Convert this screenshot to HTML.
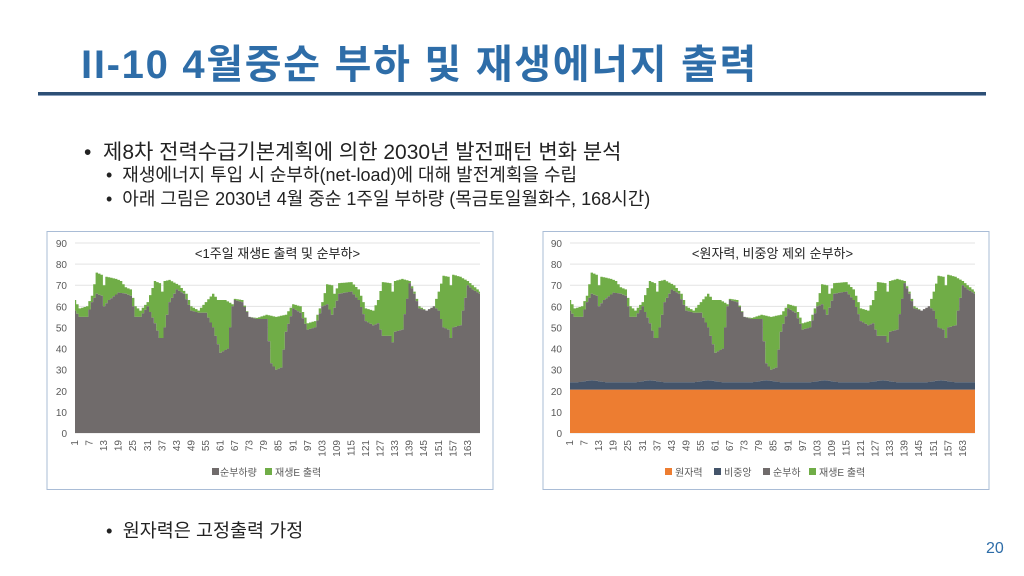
<!DOCTYPE html>
<html><head><meta charset="utf-8"><style>
body{margin:0;width:1024px;height:576px;background:#fff;position:relative;overflow:hidden;font-family:"Liberation Sans","Noto Sans CJK KR",sans-serif;}
.t{position:absolute;white-space:nowrap}
</style></head><body>
<div class="t" style="left:81px;top:32px;font-size:40px;font-weight:bold;color:#2e6da8;letter-spacing:1.7px">II-10 4월중순 부하 및 재생에너지 출력</div>
<div style="position:absolute;left:38px;top:92px;width:948px;height:3px;background:#2d4f75"></div>
<div style="position:absolute;left:38px;top:95px;width:948px;height:1px;background:#8aa0bd"></div>
<div class="t" style="left:84px;top:136px;font-size:21px;color:#222">•&nbsp; 제8차 전력수급기본계획에 의한 2030년 발전패턴 변화 분석</div>
<div class="t" style="left:106px;top:161px;font-size:18px;color:#222">•&nbsp; 재생에너지 투입 시 순부하(net-load)에 대해 발전계획을 수립</div>
<div class="t" style="left:106px;top:185px;font-size:18px;color:#222">•&nbsp; 아래 그림은 2030년 4월 중순 1주일 부하량 (목금토일월화수, 168시간)</div>
<div class="t" style="left:106px;top:517px;font-size:18.5px;color:#222">•&nbsp; 원자력은 고정출력 가정</div>
<div class="t" style="left:986px;top:540px;font-size:16px;color:#2e6da8">20</div>
<svg id="s" width="1024" height="576" style="position:absolute;left:0;top:0" xmlns="http://www.w3.org/2000/svg"></svg>
<script>
function interp(k){var a=[];for(var h=1;h<=168;h++){for(var i=0;i<k.length-1;i++){if(h>=k[i][0]&&h<=k[i+1][0]){var t=(h-k[i][0])/(k[i+1][0]-k[i][0]);a.push(k[i][1]+t*(k[i+1][1]-k[i][1]));break;}}}return a;}
var tot=interp([[1,63],[3,59],[6,60],[8,65],[10,76],[12,75],[13,70],[14,74],[18,73],[20,72],[22,69],[24,68],[26,60],[28,58],[31,62],[34,72],[36,71],[37,67],[38,72],[40,72.5],[44,70],[47,66],[49,60],[52,58],[55,62],[58,66],[60,63],[63,63],[66,61],[67,63.5],[70,63],[73,55],[76,54.5],[80,56],[84,55],[88,56],[91,61],[94,60],[97,52],[100,53],[103,62],[105,70.5],[107,70],[108,66],[110,71],[115,71.5],[118,68],[121,59],[124,58],[126,63],[128,71.5],[131,71],[132,67],[133,72],[136,73],[139,72],[141,67],[143,60],[146,58],[149,60],[151,67],[153,74.5],[155,74],[156,70],[157,75],[160,74],[163,72],[165,70],[168,67]]);
var net=interp([[1,58],[3,55],[6,55],[8,62],[10,66],[12,65],[13,60],[15,63],[19,66.5],[22,66],[24,65],[26,55],[28,55],[31,60],[34,52],[36,45],[37,45],[38,50],[40,62],[43,68],[46,66],[49,58],[52,57],[55,57],[58,50],[61,38],[64,40],[66,60],[67,63],[70,62],[73,55],[76,54],[80,54],[82,33],[84,30],[86,31],[88,48],[91,59],[94,57],[97,49],[100,50],[103,60],[105,61],[107,56],[110,66],[115,67],[118,63],[121,53],[124,51],[126,52],[128,46],[131,46],[132,43],[133,48],[136,49],[139,71],[141,66],[143,59],[146,58],[149,60],[151,58],[153,50],[155,49],[156,45],[157,50],[160,51],[161,58],[163,70],[165,68],[168,66]]);
for(var i=0;i<168;i++){if(net[i]>tot[i])net[i]=tot[i];}
var nav=[];for(var h=1;h<=168;h++){var d=((h-10)%24+24)%24;if(d>12)d=24-d;nav.push(24+Math.max(0,1-d/6));}
var out='';
function poly(x0,x1,top,bot,col,y0){var w=(x1-x0)/167,p='',sc=190/90;
 for(var i=0;i<168;i++){var xa=x0+(i-0.5)*w,xb=x0+(i+0.5)*w;if(i==0)xa=x0;if(i==167)xb=x1;var y=y0-top[i]*sc;p+=xa.toFixed(1)+','+y.toFixed(1)+' '+xb.toFixed(1)+','+y.toFixed(1)+' ';}
 for(var i=167;i>=0;i--){var xa=x0+(i-0.5)*w,xb=x0+(i+0.5)*w;if(i==0)xa=x0;if(i==167)xb=x1;var y=y0-(bot?bot[i]:0)*sc;p+=xb.toFixed(1)+','+y.toFixed(1)+' '+xa.toFixed(1)+','+y.toFixed(1)+' ';}
 return '<polygon points="'+p+'" fill="'+col+'"/>';}
function chart(bx,x0,x1,title,leg){var y0=433,sc=190/90;
 out+='<rect x="'+bx+'" y="231.5" width="446" height="258" fill="#fff" stroke="#a9bcd6"/>';
 for(var v=0;v<=90;v+=10){var y=y0-v*sc;out+='<line x1="'+x0+'" x2="'+x1+'" y1="'+y+'" y2="'+y+'" stroke="#e3e3e3"/>';out+='<text x="'+(x0-8)+'" y="'+(y+4)+'" font-size="10" fill="#595959" text-anchor="end">'+v+'</text>';}
 var w=(x1-x0)/167;
 for(var h=1;h<=168;h+=6){var x=x0+(h-1)*w+3;out+='<text transform="translate('+x+',440) rotate(-90)" font-size="10" fill="#595959" text-anchor="end">'+h+'</text>';}
 out+='<text x="'+((x0+x1)/2)+'" y="258" font-size="13" fill="#222" text-anchor="middle">'+title+'</text>';
 out+=leg;return w;}
chart(47,75,480,'&lt;1주일 재생E 출력 및 순부하&gt;','<rect x="212" y="468" width="7" height="7" fill="#706b6b"/><text x="220" y="476" font-size="10" fill="#595959">순부하량</text><rect x="265" y="468" width="7" height="7" fill="#70ad47"/><text x="275" y="476" font-size="10" fill="#595959">재생E 출력</text>');
out+=poly(75,480,tot,net,'#70ad47',433);
out+=poly(75,480,net,null,'#706b6b',433);
chart(543,570,975,'&lt;원자력, 비중앙 제외 순부하&gt;','<rect x="665" y="468" width="7" height="7" fill="#ed7d31"/><text x="675" y="476" font-size="10" fill="#595959">원자력</text><rect x="714" y="468" width="7" height="7" fill="#44546a"/><text x="724" y="476" font-size="10" fill="#595959">비중앙</text><rect x="763" y="468" width="7" height="7" fill="#706b6b"/><text x="773" y="476" font-size="10" fill="#595959">순부하</text><rect x="809" y="468" width="7" height="7" fill="#70ad47"/><text x="819" y="476" font-size="10" fill="#595959">재생E 출력</text>');
var orr=[];for(var i=0;i<168;i++)orr.push(20.5);
out+=poly(570,975,tot,net,'#70ad47',433);
out+=poly(570,975,net,nav,'#706b6b',433);
out+=poly(570,975,nav,orr,'#44546a',433);
out+=poly(570,975,orr,null,'#ed7d31',433);
document.getElementById('s').innerHTML=out;
</script>
</body></html>
